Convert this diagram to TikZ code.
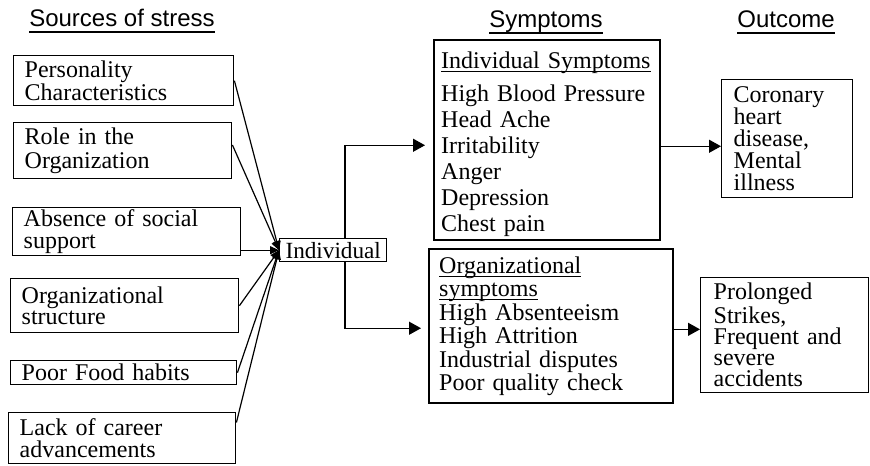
\documentclass[tikz,border=0pt]{standalone}
\usepackage{fontspec}
\setmainfont{Liberation Serif}
\newfontfamily\hdrfont{Liberation Sans}
\usetikzlibrary{arrows.meta,calc}
\newcommand\myul[2]{\leavevmode\setbox0=\hbox{#2}\rlap{\rule[#1]{\wd0}{0.6pt}}\box0}
\begin{document}
\begin{tikzpicture}[x=0.5pt,y=-0.5pt,
 box/.style={draw,line width=0.7pt,anchor=north west,align=left,inner ysep=0pt},
 thickbox/.style={box,line width=1.2pt},
 hdr/.style={anchor=base,inner sep=0pt,font=\hdrfont\fontsize{12}{14}\selectfont},
 arr/.style={line width=0.6pt,-{Triangle[length=6pt,width=6.5pt]}},
 sarr/.style={line width=0.6pt,-{Triangle[length=4.5pt,width=4pt]}}]
\useasboundingbox[fill=white] (0,0) rectangle (870,465);

\node[hdr] (h1) at (122,27) {\myul{-2.8pt}{Sources of stress}};
\node[hdr] (h2) at (546,28) {\myul{-2.8pt}{Symptoms}};
\node[hdr] (h3) at (786,28) {\myul{-2.8pt}{Outcome}};

\node[box,minimum width=110pt,minimum height=25pt,text width=99pt,inner xsep=5.5pt,font=\fontsize{12}{11.5}\selectfont] (b1) at (13,55) {Personality\\Characteristics};
\node[box,minimum width=109pt,minimum height=28pt,text width=98pt,inner xsep=5.5pt,font=\fontsize{12}{12}\selectfont] (b2) at (13,122) {Role in the\\Organization};
\node[box,minimum width=114pt,minimum height=24pt,text width=103pt,inner xsep=5.5pt,font=\fontsize{12}{10.6}\selectfont] (b3) at (12,207) {Absence of social\\support};
\node[box,minimum width=114pt,minimum height=27pt,text width=103pt,inner xsep=5.5pt,font=\fontsize{12}{10.8}\selectfont] (b4) at (10,278) {Organizational\\structure};
\node[box,minimum width=113pt,minimum height=12pt,text width=102pt,inner xsep=5.5pt,font=\fontsize{12}{12}\selectfont] (b5) at (10,360) {Poor Food habits};
\node[box,minimum width=113.5pt,minimum height=25.5pt,text width=102.5pt,inner xsep=5.5pt,font=\fontsize{12}{11}\selectfont] (b6) at (8,412) {Lack of career\\advancements};

\node[box,minimum width=53.5pt,minimum height=11.5pt,inner xsep=1.5pt,font=\fontsize{11.6}{12}\selectfont] (ind) at (279,238) {Individual};

\node[thickbox,minimum width=113pt,minimum height=100pt,text width=106pt,inner xsep=3.5pt,text depth=80pt,font=\fontsize{12}{13}\selectfont] (isym) at (433,39)
 {\myul{-1.8pt}{Individual Symptoms}\\[3.5pt]High Blood Pressure\\Head Ache\\Irritability\\Anger\\Depression\\Chest pain};
\node[thickbox,minimum width=122pt,minimum height=77pt,text width=112pt,inner xsep=5pt,font=\fontsize{12}{11.7}\selectfont] (osym) at (428,248)
 {\myul{-1.8pt}{Organizational}\\\myul{-1.8pt}{symptoms}\\High Absenteeism\\High Attrition\\Industrial disputes\\Poor quality check};

\node[box,minimum width=65.5pt,minimum height=59pt,text width=53.5pt,inner xsep=6pt,font=\fontsize{12}{11}\selectfont] (out1) at (721,79) {Coronary\\heart\\disease,\\Mental\\illness};
\node[box,minimum width=84pt,minimum height=57.5pt,text width=71pt,inner xsep=6.5pt,font=\fontsize{12}{10.5}\selectfont] (out2) at (700,277) {Prolonged\\Strikes,\\Frequent and\\severe\\accidents};

\draw[sarr] (b1.east) -- (ind.west);
\draw[sarr] ($(b2.north east)!0.4!(b2.south east)$) -- (ind.west);
\draw[sarr] (b3.east |- ind.west) -- (ind.west);
\draw[sarr] (b4.east) -- (ind.west);
\draw[sarr] (b5.east) -- (ind.west);
\draw[sarr] ($(b6.north east)!0.2!(b6.south east)$) -- (ind.west);

\coordinate (brx) at (345,0);
\coordinate (t1) at ($(isym.north west)!0.525!(isym.south west)$);
\coordinate (t2) at ($(osym.north west)!0.513!(osym.south west)$);
\draw[arr,shorten >=4pt] (ind.north -| brx) |- (t1);
\draw[arr,shorten >=3.5pt] (ind.south -| brx) |- (t2);

\coordinate (s1) at ($(isym.north east)!0.53!(isym.south east)$);
\coordinate (s2) at ($(osym.north east)!0.52!(osym.south east)$);
\draw[arr] (s1) -- (s1 -| out1.west);
\draw[arr] (s2) -- (s2 -| out2.west);
\end{tikzpicture}
\end{document}
